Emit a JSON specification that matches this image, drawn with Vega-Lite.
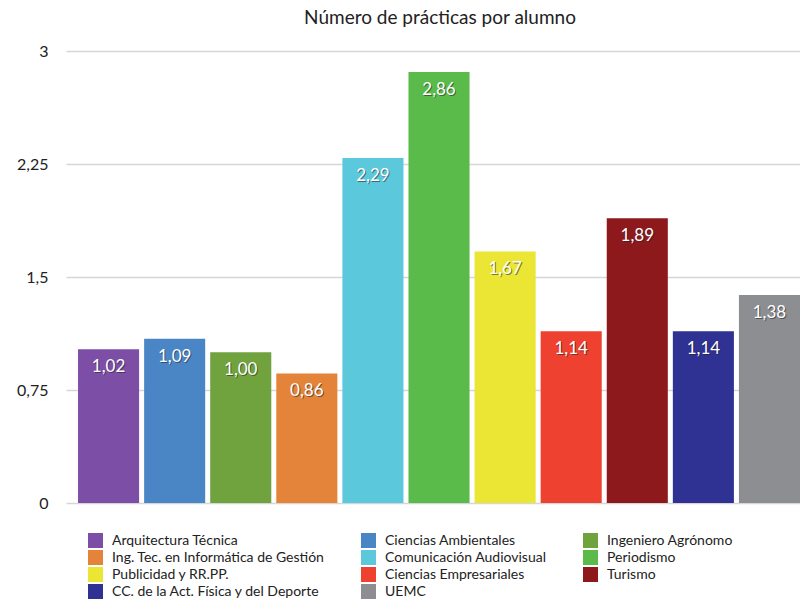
{
  "$schema": "https://vega.github.io/schema/vega-lite/v6.json",
  "autosize": {"type": "none"},
  "width": 734,
  "height": 452,
  "padding": {"left": 66, "top": 51, "right": 0, "bottom": 101},
  "title": {"text": "Número de prácticas por alumno", "anchor": "middle", "dx": 7, "offset": 15, "fontSize": 19, "fontWeight": "normal", "font": "Lato", "color": "#222"},
  "config": {
    "view": {"stroke": null},
    "locale": {"number": {"decimal": ",", "thousands": ".", "grouping": [3], "currency": ["", " €"]}},
    "font": "Lato"
  },
  "data": {"values": [
    {"carrera": "Arquitectura Técnica", "valor": 1.02},
    {"carrera": "Ciencias Ambientales", "valor": 1.09},
    {"carrera": "Ingeniero Agrónomo", "valor": 1.00},
    {"carrera": "Ing. Tec. en Informática de Gestión", "valor": 0.86},
    {"carrera": "Comunicación Audiovisual", "valor": 2.29},
    {"carrera": "Periodismo", "valor": 2.86},
    {"carrera": "Publicidad y RR.PP.", "valor": 1.67},
    {"carrera": "Ciencias Empresariales", "valor": 1.14},
    {"carrera": "Turismo", "valor": 1.89},
    {"carrera": "CC. de la Act. Física y del Deporte", "valor": 1.14},
    {"carrera": "UEMC", "valor": 1.38}
  ]},
  "encoding": {
    "x": {"field": "carrera", "type": "nominal", "sort": null, "axis": null,
      "scale": {"paddingInner": 0.076, "paddingOuter": 0.091, "align": 1}},
    "y": {"field": "valor", "type": "quantitative",
      "scale": {"domain": [0, 3], "nice": false},
      "axis": {"values": [0, 0.75, 1.5, 2.25, 3], "format": ".3~g", "title": null,
        "domain": false, "ticks": false, "labelPadding": 18, "labelFontSize": 16,
        "labelColor": "#222", "labelFont": "Lato",
        "gridColor": "#d6d6d6", "gridWidth": 1.5}}
  },
  "layer": [
    {
      "mark": {"type": "bar"},
      "encoding": {
        "color": {"field": "carrera", "type": "nominal",
          "scale": {
            "domain": ["Arquitectura Técnica", "Ciencias Ambientales", "Ingeniero Agrónomo", "Ing. Tec. en Informática de Gestión", "Comunicación Audiovisual", "Periodismo", "Publicidad y RR.PP.", "Ciencias Empresariales", "Turismo", "CC. de la Act. Física y del Deporte", "UEMC"],
            "range": ["#7d4ea6", "#4a86c6", "#70a23e", "#e3843a", "#5bc8db", "#5bbb4a", "#ebe533", "#ee4130", "#8e191c", "#2f3193", "#8d8e92"]
          },
          "legend": {"orient": "none", "direction": "horizontal", "legendX": 22, "legendY": 482, "columns": 3, "title": null,
            "symbolType": "square", "symbolSize": 225, "symbolStrokeWidth": 0, "symbolOpacity": 1,
            "labelFontSize": 14, "labelFont": "Lato", "labelColor": "#222", "labelOffset": 9,
            "rowPadding": 2, "columnPadding": 36, "labelLimit": 300}
        }
      }
    },
    {
      "mark": {"type": "text", "baseline": "middle", "align": "center", "dx": 1, "dy": 19, "fontSize": 17, "color": "#222", "opacity": 0.55},
      "encoding": {"text": {"field": "valor", "type": "quantitative", "format": ".2f"}}
    },
    {
      "mark": {"type": "text", "baseline": "middle", "align": "center", "dy": 18, "fontSize": 17, "color": "white"},
      "encoding": {"text": {"field": "valor", "type": "quantitative", "format": ".2f"}}
    }
  ]
}
